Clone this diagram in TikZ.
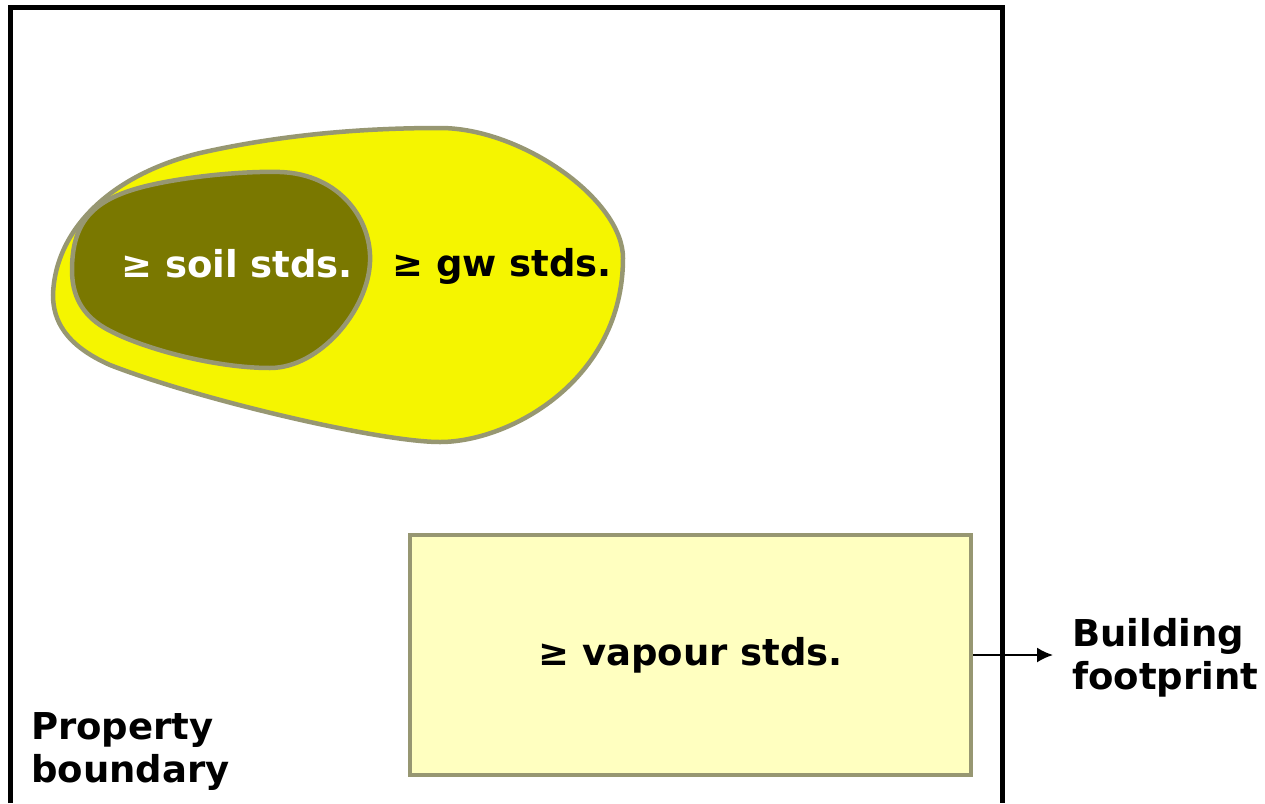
\documentclass[tikz,border=0pt]{standalone}
\usepackage{fontspec}
\setmainfont{DejaVu Sans}
\usetikzlibrary{arrows.meta}

\definecolor{gwyellow}{HTML}{F5F500}
\definecolor{soilolive}{HTML}{7A7800}
\definecolor{blobedge}{HTML}{979772}
\definecolor{vapourfill}{HTML}{FFFFC0}

\begin{document}
\begin{tikzpicture}[x=1pt, y=-1pt,
  label/.style={font=\fontsize{37}{43}\selectfont\bfseries, inner sep=0pt, align=left},
  zone/.style={draw=blobedge, line width=4.5pt}]
\useasboundingbox (0,0) rectangle (1265,803);

% property boundary (open at the bottom)
\draw [line width=5pt, line join=miter] (10,803) to (10,7) to (1002,7) to (1002,803);

% groundwater zone
\fill [zone, fill=gwyellow] (53,295)
  .. controls (55,230) and (110,175) .. (200,153)
  .. controls (280,135) and (360,128) .. (440,128)
  .. controls (522,128) and (623,200) .. (623,258)
  .. controls (623,380) and (510,442) .. (440,442)
  .. controls (380,442) and (200,400) .. (110,365)
  .. controls (65,345) and (53,320) .. cycle;

% soil zone
\fill [zone, fill=soilolive] (72,270)
  .. controls (72,215) and (100,195) .. (160,183)
  .. controls (200,175) and (250,171) .. (280,172)
  .. controls (340,174) and (372,220) .. (370,262)
  .. controls (368,310) and (320,368) .. (270,368)
  .. controls (210,368) and (130,345) .. (100,325)
  .. controls (78,310) and (72,290) .. cycle;

\node [label, text=white, anchor=west] (soil) at (121,264) {≥ soil stds.};
\node [label, anchor=west] (gw) at (392,266) {≥ gw stds.};

% building footprint
\node [draw=blobedge, line width=4pt, fill=vapourfill, minimum width=561pt,
  minimum height=240pt, inner sep=0pt] (bldg) at (690.5,655) {};
\node [label] (vapour) at (bldg.center) {≥ vapour stds.};

\coordinate (tip) at (1053,655);
\draw [-{Latex[length=16pt,width=15pt]}, line width=2pt] (bldg.east) to (tip);

\node [label, anchor=west] (footlbl) at (1072,658) {Building\\footprint};
\node [label, anchor=west] (proplbl) at (31,751) {Property\\boundary};
\end{tikzpicture}
\end{document}
